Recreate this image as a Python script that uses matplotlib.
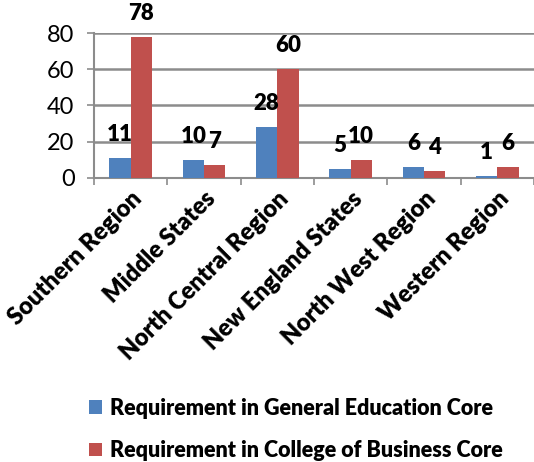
import matplotlib.pyplot as plt
import numpy as np

# data
regions = ["Southern Region", "Middle States", "North Central Region",
           "New England States", "North West Region", "Western Region"]
gen_ed = [11, 10, 28, 5, 6, 1]
business = [78, 7, 60, 10, 4, 6]
series_names = ["Requirement in General Education Core",
                "Requirement in College of Business Core"]
y_ticks = [0, 20, 40, 60, 80]

blue = "#4F81BD"
red = "#C0504D"
grid_col = "#8C8C8C"

plt.rcParams['font.family'] = ['Lato', 'DejaVu Sans']

fig = plt.figure(figsize=(5.34, 4.62), dpi=100)
ax = fig.add_axes([0.176, 0.615, 0.824, 0.3134])

x = np.arange(len(regions))
w = 0.29
b1 = ax.bar(x - w / 2, gen_ed, w, color=blue, label=series_names[0], zorder=3)
b2 = ax.bar(x + w / 2, business, w, color=red, label=series_names[1], zorder=3)

# data labels (sit well above the bars, like the original)
for bars, vals in [(b1, gen_ed), (b2, business)]:
    for rect, v in zip(bars, vals):
        ax.annotate(str(v), (rect.get_x() + rect.get_width() / 2, rect.get_height()),
                    xytext=(0, 17), textcoords='offset points',
                    ha='center', va='center', fontsize=16, fontweight='heavy')

ax.set_xlim(-0.5, len(regions) - 0.5)
ax.set_ylim(0, 80)
ax.set_yticks(y_ticks)
ax.set_yticklabels([str(t) for t in y_ticks], fontsize=17)
ax.yaxis.grid(True, color=grid_col, linewidth=1.8, zorder=0)

# x ticks at the category boundaries, labels at the centres
ax.set_xticks(np.arange(len(regions) + 1) - 0.5)
ax.set_xticklabels([])
ax.set_xticks(x, minor=True)
ax.set_xticklabels(regions, minor=True, rotation=45, ha='right',
                   rotation_mode='anchor', fontsize=17, fontweight='heavy')
ax.tick_params(axis='x', which='minor', length=0, pad=7)
ax.tick_params(axis='x', which='major', length=5, width=1.2, color=grid_col)
ax.tick_params(axis='y', length=5, width=1.2, color=grid_col, pad=9)

for s in ['top', 'right']:
    ax.spines[s].set_visible(False)
for s in ['left', 'bottom']:
    ax.spines[s].set_color(grid_col)
    ax.spines[s].set_linewidth(1.5)

fig.legend(handles=[b1, b2], loc='upper left', bbox_to_anchor=(0.15, 0.158),
           bbox_transform=fig.transFigure, frameon=False, ncol=1,
           prop={'size': 15.5, 'weight': 'heavy'}, handlelength=0.6,
           handleheight=0.6, handletextpad=0.4, labelspacing=1.0,
           borderaxespad=0)

fig.savefig("out.png", dpi=100)
